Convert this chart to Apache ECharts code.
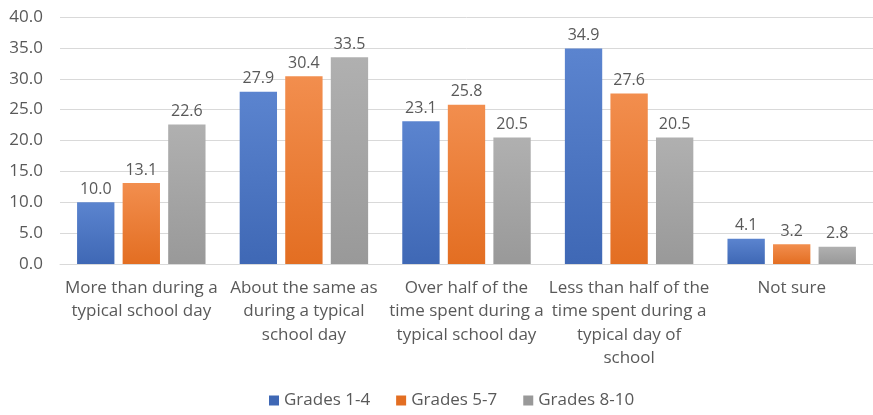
<!DOCTYPE html>
<html><head><meta charset="utf-8">
<script src="https://cdn.jsdelivr.net/npm/echarts@6/dist/echarts.min.js"></script>
<style>html,body{margin:0;padding:0;background:#fff}#c{width:873px;height:415px}</style>
</head><body><div id="c"></div>
<script>
const categories = [
  "More than during a\ntypical school day",
  "About the same as\nduring a typical\nschool day",
  "Over half of the\ntime spent during a\ntypical school day",
  "Less than half of the\ntime spent during a\ntypical day of\nschool",
  "Not sure"
];
const seriesNames = ["Grades 1-4", "Grades 5-7", "Grades 8-10"];
const grades1to4 = [10.0, 27.9, 23.1, 34.9, 4.1];
const grades5to7 = [13.1, 30.4, 25.8, 27.6, 3.2];
const grades8to10 = [22.6, 33.5, 20.5, 20.5, 2.8];
const colors = [["#5B84CF", "#3F68B5"], ["#F28E4E", "#E36E22"], ["#B0B0B0", "#999999"]];
const font = "'Open Sans', 'Liberation Sans', sans-serif";
const txt = "#595959";
const chart = echarts.init(document.getElementById('c'));
const mk = (name, data, i) => ({
  name, type: 'bar', data,
  barGap: '22%', barCategoryGap: '21%',
  itemStyle: { color: new echarts.graphic.LinearGradient(0, 0, 0, 1, [{offset: 0, color: colors[i][0]}, {offset: 1, color: colors[i][1]}]) },
  label: { show: true, position: 'top', distance: 5, color: txt, fontSize: 16, fontFamily: font, formatter: p => p.value.toFixed(1) }
});
chart.setOption({
  animation: false,
  textStyle: { fontFamily: font },
  grid: { left: 60, width: 818, top: 17, bottom: 151, containLabel: false },
  legend: {
    left: 264, bottom: 1, itemWidth: 10, itemHeight: 10, itemGap: 26,
    icon: 'rect',
    textStyle: { color: txt, fontSize: 17, fontFamily: font },
    data: seriesNames.map((n, i) => ({ name: n, itemStyle: { color: colors[i][1] } }))
  },
  xAxis: {
    type: 'category', data: categories,
    axisLine: { lineStyle: { color: '#d9d9d9', width: 1 } },
    axisTick: { show: false },
    axisLabel: { color: txt, fontSize: 17, fontFamily: font, lineHeight: 23.5, margin: 12, interval: 0 }
  },
  yAxis: {
    type: 'value', min: 0, max: 40, interval: 5,
    axisLine: { show: false }, axisTick: { show: false },
    splitLine: { lineStyle: { color: '#d9d9d9', width: 1 } },
    axisLabel: { color: txt, fontSize: 17, fontFamily: font, margin: 17, formatter: v => v.toFixed(1) }
  },
  series: [mk(seriesNames[0], grades1to4, 0), mk(seriesNames[1], grades5to7, 1), mk(seriesNames[2], grades8to10, 2)]
});
</script></body></html>
